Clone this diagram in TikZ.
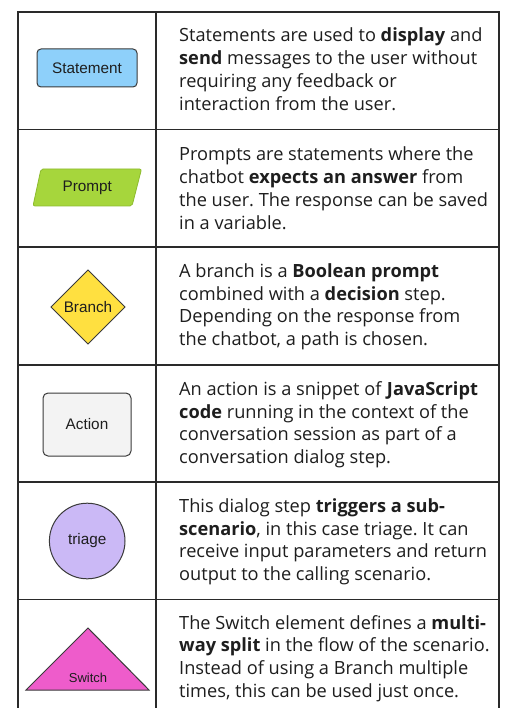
\documentclass[tikz,border=0pt]{standalone}
\usepackage{fontspec}
\setmainfont{Open Sans}
\newfontfamily\shapefont{Liberation Sans}
\frenchspacing
\definecolor{gridline}{HTML}{2A2A2A}
\definecolor{txt}{HTML}{1E1E1E}
\definecolor{stmtblue}{HTML}{8ED0FA}
\definecolor{promptgreen}{HTML}{A6D63C}
\definecolor{promptedge}{HTML}{8DBB2E}
\definecolor{branchyellow}{HTML}{FFE040}
\definecolor{actiongray}{HTML}{F3F3F3}
\definecolor{triagepurple}{HTML}{CBB9F6}
\definecolor{switchpink}{HTML}{EE5CCB}
\definecolor{shapeedge}{HTML}{3A3A3A}
\begin{document}
\begin{tikzpicture}[x=1pt,y=-1pt,
  grid/.style={draw=gridline,line width=1.4pt},
  desc/.style={anchor=base west,inner sep=0pt,text=txt,font=\fontsize{18.2}{22.8}\selectfont\frenchspacing},
  shapelabel/.style={inner sep=0pt,text=txt,font=\shapefont\fontsize{15.3}{18}\selectfont},
  shapeline/.style={draw=shapeedge,line width=1pt}]
\useasboundingbox (0,0) rectangle (508,708);
\fill[white] (0,0) rectangle (508,708);
% table grid
\draw[grid] (18,12) -- (499,12);
\foreach \yy in {129.5,247,365,482,599.5} \draw[grid] (18,\yy) -- (499,\yy);
\draw[grid] (18,11.3) -- (18,708);
\draw[grid] (156,11.3) -- (156,708);
\draw[grid] (499,11.3) -- (499,708);
% shapes
\node[shapeline,fill=stmtblue,rounded corners=4pt,minimum width=100pt,minimum height=38pt,shapelabel] (statement) at (87,68) {Statement};
\filldraw[fill=promptgreen,draw=promptedge,line width=0.8pt,rounded corners=2pt] (41,169) -- (141.5,169) -- (132,206) -- (33,206) -- cycle;
\node[shapelabel] (prompt) at (87.3,188) {Prompt};
\filldraw[shapeline,fill=branchyellow] (88,270) -- (125,307) -- (88,344) -- (51,307) -- cycle;
\node[shapelabel] (branch) at (88,307) {Branch};
\node[shapeline,fill=actiongray,rounded corners=5pt,minimum width=88pt,minimum height=63pt,shapelabel] (action) at (87,424.5) {Action};
\node[shapeline,fill=triagepurple,circle,minimum size=75.6pt,shapelabel] (triage) at (87.2,541) {triage};
\filldraw[shapeline,fill=switchpink] (88,628) -- (149,690) -- (26,690) -- cycle;
\node[shapelabel,font=\shapefont\fontsize{13}{16}\selectfont] (switch) at (88,678) {Switch};
% descriptions
\node[desc] (d1) at (179,41.7) {\parbox[t]{330pt}{Statements are used to \textbf{display} and\\
\textbf{send} messages to the user without\\
requiring any feedback or\\
interaction from the user.}};
\node[desc] (d2) at (179,160.8) {\parbox[t]{330pt}{Prompts are statements where the\\
chatbot \textbf{expects an answer} from\\
the user. The response can be saved\\
in a variable.}};
\node[desc] (d3) at (179,277.3) {\parbox[t]{330pt}{A branch is a \textbf{Boolean prompt}\\
combined with a \textbf{decision} step.\\
Depending on the response from\\
the chatbot, a path is chosen.}};
\node[desc] (d4) at (179,395.3) {\parbox[t]{330pt}{An action is a snippet of \textbf{JavaScript}\\
\textbf{code} running in the context of the\\
conversation session as part of a\\
conversation dialog step.}};
\node[desc] (d5) at (179,512.3) {\parbox[t]{330pt}{This dialog step \textbf{triggers a sub-}\\
\textbf{scenario}, in this case triage. It can\\
receive input parameters and return\\
output to the calling scenario.}};
\node[desc] (d6) at (179,629) {\parbox[t]{330pt}{The Switch element defines a \textbf{multi-}\\
\textbf{way split} in the flow of the scenario.\\
Instead of using a Branch multiple\\
times, this can be used just once.}};
\end{tikzpicture}
\end{document}
